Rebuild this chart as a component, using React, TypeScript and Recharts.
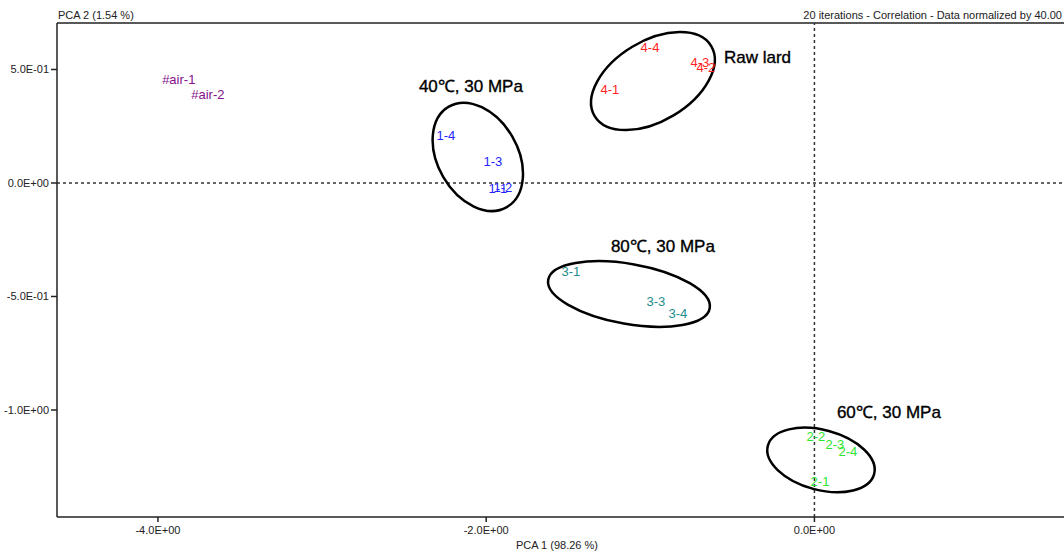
import React from "react";
import {
  ScatterChart,
  Scatter,
  XAxis,
  YAxis,
  ReferenceLine,
  ReferenceDot,
} from "recharts";

// PCA scores per sample group (PC1, PC2)
const airSamples = [
  { label: "#air-1", pc1: -3.873, pc2: 0.454 },
  { label: "#air-2", pc1: -3.696, pc2: 0.388 },
];
const group40 = [
  { label: "1-4", pc1: -2.246, pc2: 0.211 },
  { label: "1-3", pc1: -1.959, pc2: 0.093 },
  { label: "1-1", pc1: -1.929, pc2: -0.026 },
  { label: "1-2", pc1: -1.898, pc2: -0.022 },
];
const rawLard = [
  { label: "4-4", pc1: -1.002, pc2: 0.599 },
  { label: "4-1", pc1: -1.246, pc2: 0.414 },
  { label: "4-3", pc1: -0.698, pc2: 0.529 },
  { label: "4-2", pc1: -0.661, pc2: 0.507 },
];
const group80 = [
  { label: "3-1", pc1: -1.484, pc2: -0.388 },
  { label: "3-3", pc1: -0.966, pc2: -0.524 },
  { label: "3-4", pc1: -0.832, pc2: -0.573 },
];
const group60 = [
  { label: "2-2", pc1: 0.009, pc2: -1.115 },
  { label: "2-3", pc1: 0.125, pc2: -1.15 },
  { label: "2-4", pc1: 0.204, pc2: -1.181 },
  { label: "2-1", pc1: 0.034, pc2: -1.313 },
];

// group annotations: caption anchor and ellipse centre in score units
const captions = [
  { text: "40℃, 30 MPa", pc1: -2.41, pc2: 0.427 },
  { text: "Raw lard", pc1: -0.551, pc2: 0.555 },
  { text: "80℃, 30 MPa", pc1: -1.24, pc2: -0.278 },
  { text: "60℃, 30 MPa", pc1: 0.137, pc2: -1.009 },
];
const ellipseCentres = [
  { pc1: -2.051, pc2: 0.115 },
  { pc1: -0.984, pc2: 0.449 },
  { pc1: -1.13, pc2: -0.489 },
  { pc1: 0.04, pc2: -1.22 },
];
// ellipse radii (px) and rotation (deg)
const ellipseShapes = [
  { rx: 58, ry: 40, rot: 60 },
  { rx: 68, ry: 40, rot: -31 },
  { rx: 82, ry: 30, rot: 10 },
  { rx: 55, ry: 30, rot: 15 },
];

const xTicks = [-4, -2, 0];
const yTicks = [0.5, 0, -0.5, -1];
const X_DOMAIN: [number, number] = [-4.615, 1.545];
const Y_DOMAIN: [number, number] = [-1.4714, 0.7048];

const FONT = "'Liberation Sans', Arial, sans-serif";

const sci = (v: number) => {
  if (v === 0) return "0.0E+00";
  const [m, e] = v.toExponential(1).split("e");
  const n = parseInt(e, 10);
  return `${m}E${n < 0 ? "-" : "+"}${String(Math.abs(n)).padStart(2, "0")}`;
};

const labelShape = (color: string) => (props: any) => (
  <text
    x={props.cx}
    y={props.cy}
    textAnchor="middle"
    dominantBaseline="central"
    fontFamily={FONT}
    fontSize={13}
    fill={color}
  >
    {props.payload.label}
  </text>
);

const series = [
  { data: airSamples, color: "#84108a" },
  { data: group40, color: "#2424ff" },
  { data: rawLard, color: "#ff2424" },
  { data: group80, color: "#1e8c8c" },
  { data: group60, color: "#2ee62e" },
];

export default function App() {
  return (
    <div
      style={{
        position: "absolute",
        left: 0,
        top: 0,
        width: 1064,
        height: 554,
        overflow: "hidden",
        background: "#fff",
        fontFamily: FONT,
      }}
    >
      <ScatterChart
        width={1070}
        height={554}
        margin={{ top: 23, right: 2, left: 0, bottom: 0 }}
      >
        <XAxis
          type="number"
          dataKey="pc1"
          domain={X_DOMAIN}
          ticks={xTicks}
          tickFormatter={sci}
          allowDataOverflow
          height={37}
          tickSize={5}
          tickMargin={4}
          axisLine={{ stroke: "#222", strokeWidth: 1.5 }}
          tickLine={{ stroke: "#222", strokeWidth: 1.5 }}
          tick={{ fill: "#222", fontSize: 11, fontFamily: FONT }}
        />
        <YAxis
          type="number"
          dataKey="pc2"
          domain={Y_DOMAIN}
          ticks={yTicks}
          tickFormatter={sci}
          allowDataOverflow
          width={57}
          tickSize={6}
          tickMargin={2}
          axisLine={{ stroke: "#222", strokeWidth: 1.5 }}
          tickLine={{ stroke: "#222", strokeWidth: 1.5 }}
          tick={{ fill: "#222", fontSize: 11, fontFamily: FONT }}
        />
        <ReferenceLine y={Y_DOMAIN[1]} stroke="#222" strokeWidth={1.5} />
        <ReferenceLine x={0} stroke="#333" strokeDasharray="3 3" strokeWidth={1.5} />
        <ReferenceLine y={0} stroke="#333" strokeDasharray="3 3" strokeWidth={1.5} />

        {ellipseCentres.map((c, i) => (
          <ReferenceDot
            key={`e${i}`}
            x={c.pc1}
            y={c.pc2}
            ifOverflow="visible"
            shape={(p: any) => (
              <ellipse
                cx={p.cx}
                cy={p.cy}
                rx={ellipseShapes[i].rx}
                ry={ellipseShapes[i].ry}
                transform={`rotate(${ellipseShapes[i].rot} ${p.cx} ${p.cy})`}
                fill="none"
                stroke="#000"
                strokeWidth={2.5}
              />
            )}
          />
        ))}

        {series.map((s, i) => (
          <Scatter
            key={i}
            data={s.data}
            shape={labelShape(s.color)}
            isAnimationActive={false}
          />
        ))}

        {captions.map((c, i) => (
          <ReferenceDot
            key={`c${i}`}
            x={c.pc1}
            y={c.pc2}
            ifOverflow="visible"
            shape={(p: any) => (
              <text
                x={p.cx}
                y={p.cy}
                dominantBaseline="central"
                fontFamily={FONT}
                fontSize={17}
                fill="#000"
                stroke="#000"
                strokeWidth={0.35}
              >
                {c.text}
              </text>
            )}
          />
        ))}
      </ScatterChart>

      <div
        style={{
          position: "absolute",
          left: 58,
          top: 9,
          fontSize: 11,
          color: "#222",
          lineHeight: "13px",
        }}
      >
        PCA 2 (1.54 %)
      </div>
      <div
        style={{
          position: "absolute",
          right: 2,
          top: 9,
          fontSize: 11,
          color: "#222",
          lineHeight: "13px",
        }}
      >
        20 iterations - Correlation - Data normalized by 40.00
      </div>
      <div
        style={{
          position: "absolute",
          left: 516,
          top: 539,
          fontSize: 11,
          color: "#222",
          lineHeight: "13px",
        }}
      >
        PCA 1 (98.26 %)
      </div>
    </div>
  );
}
